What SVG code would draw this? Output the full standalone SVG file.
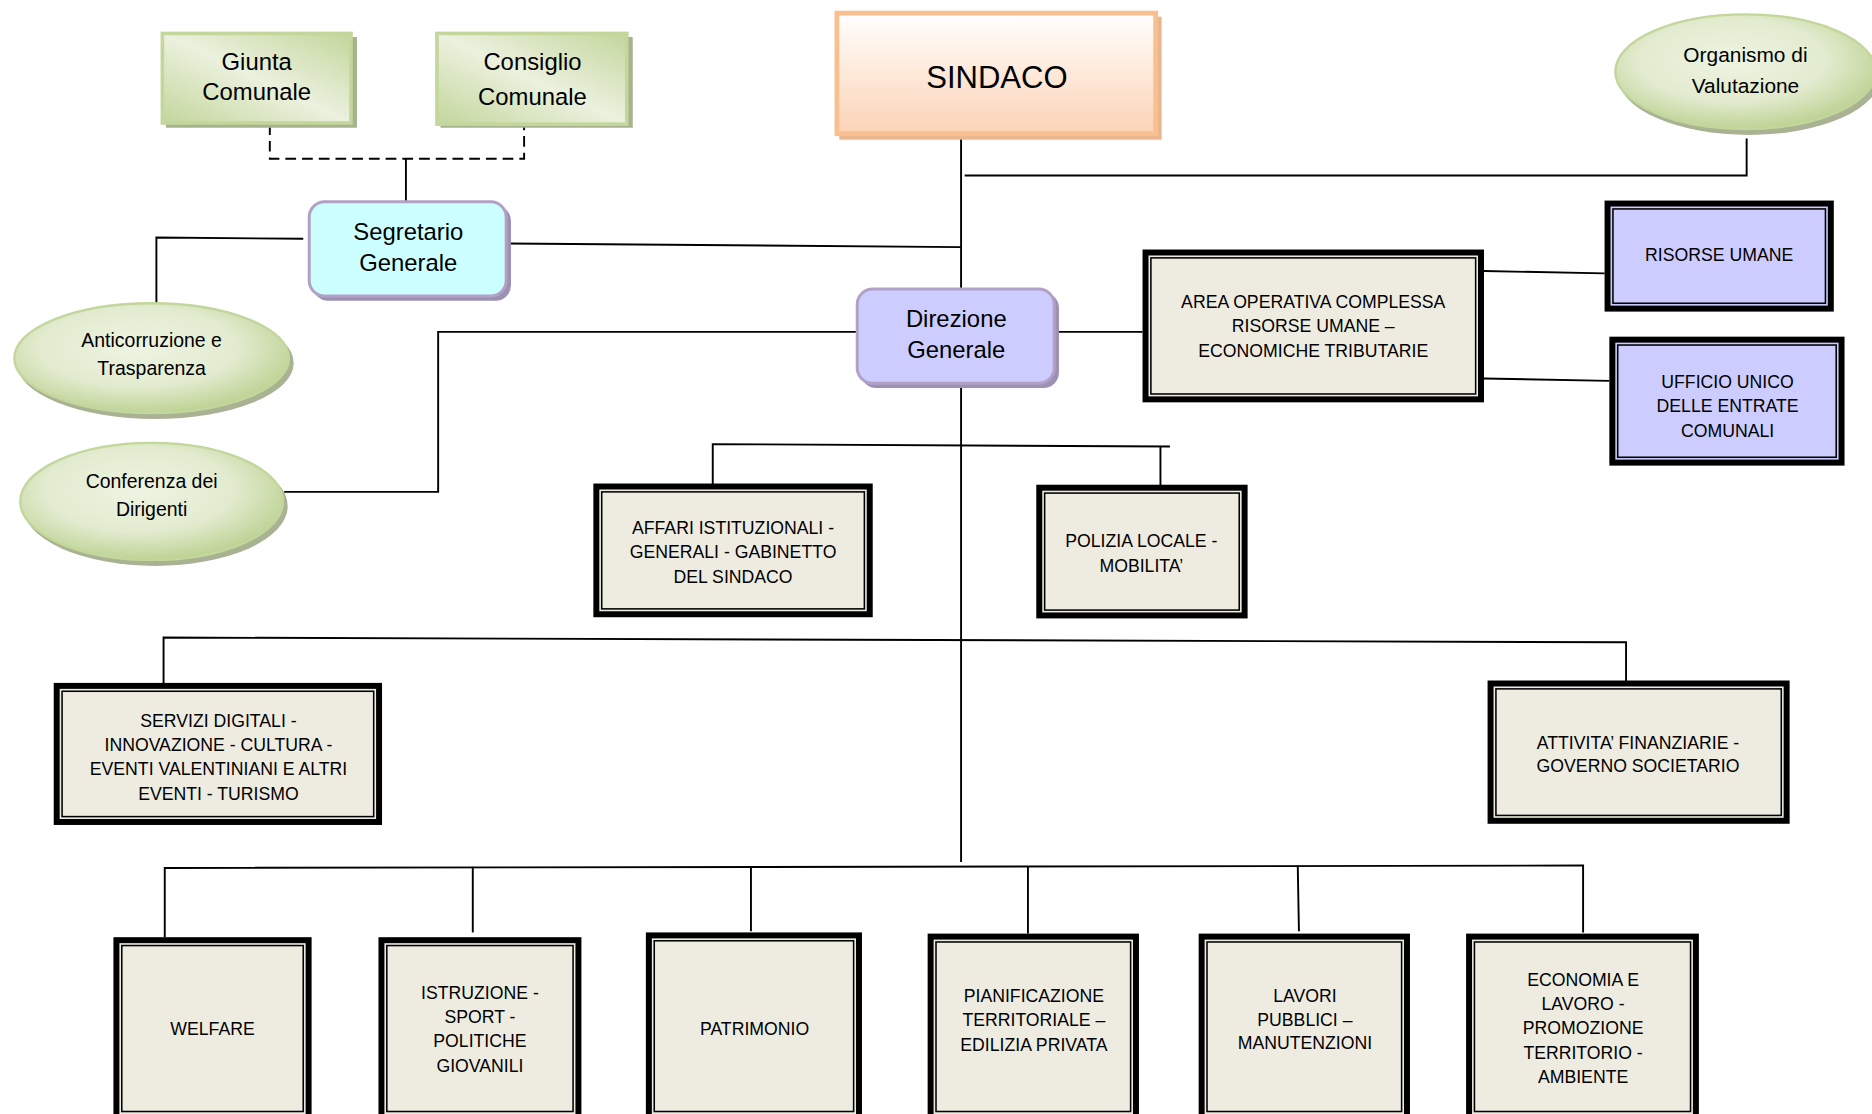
<svg xmlns="http://www.w3.org/2000/svg" width="1872" height="1114" viewBox="0 0 1872 1114">
<defs>
<linearGradient id="gGreen" x1="0" y1="1" x2="1" y2="0">
<stop offset="0" stop-color="#c3d69b"/><stop offset="0.5" stop-color="#ebf1de"/><stop offset="1" stop-color="#c3d69b"/>
</linearGradient>
<radialGradient id="gEll" cx="0.45" cy="0.4" r="0.6">
<stop offset="0" stop-color="#eef4e2"/><stop offset="0.6" stop-color="#e2ebcf"/><stop offset="1" stop-color="#bfd395"/>
</radialGradient>
<linearGradient id="gOrange" x1="0" y1="0" x2="0" y2="1">
<stop offset="0" stop-color="#ffffff"/><stop offset="1" stop-color="#fbd3b5"/>
</linearGradient>
<style>
.ln{stroke:#000;stroke-width:1.6;fill:none}
.dash{stroke-dasharray:9 5}
.o{fill:#eeece1;stroke:#000;stroke-width:5}
.op{fill:#ccccff;stroke:#000;stroke-width:5}
.i{fill:none;stroke:#000;stroke-width:1.3}
.t{font-family:"Liberation Sans",Arial,sans-serif;fill:#000;text-anchor:middle}
.s14{font-size:14.8px}
.s15{font-size:16.3px}
.s18{font-size:20px}
.grn{fill:url(#gGreen);stroke:#c3d69b;stroke-width:3}
.gsh{fill:#a7b28e}
.ell{fill:url(#gEll);stroke:#c3d69b;stroke-width:2}
.esh{fill:#a9b394}
.rnd{stroke:#b2a1c7;stroke-width:2.5}
.rsh{fill:#9c90b3}
</style>
</defs>
<g transform="scale(1.19388)">
<g id="connectors">
<path class="ln dash" d="M226,104 V133 H439 V106"/>
<path class="ln" d="M340,133 V169"/>
<path class="ln" d="M805,114 V722"/>
<path class="ln" d="M808,147 H1463 V116"/>
<path class="ln" d="M425,204 L805,207"/>
<path class="ln" d="M254,200 L131,199 V254"/>
<path class="ln" d="M718,278 H367 V412 H238"/>
<path class="ln" d="M884,278 H957"/>
<path class="ln" d="M1243,227 L1344,229"/>
<path class="ln" d="M1243,317 L1348,319"/>
<path class="ln" d="M597,406 V372 L980,374"/>
<path class="ln" d="M972,374 V407"/>
<path class="ln" d="M137,572 V534 L1362,538 V571"/>
<path class="ln" d="M138,785 V727 L1326,725 V781"/>
<path class="ln" d="M396,726 V781"/>
<path class="ln" d="M629,726 V780"/>
<path class="ln" d="M861,726 V782"/>
<path class="ln" d="M1087,725 L1088,780"/>
</g>
<g id="giunta">
<rect class="gsh" x="139" y="31" width="160" height="76"/>
<rect class="grn" x="136" y="28" width="158" height="75"/>
<text class="t s18"><tspan x="215" y="59">Giunta</tspan><tspan x="215" y="84">Comunale</tspan></text>
</g>
<g id="consiglio">
<rect class="gsh" x="369" y="31" width="161" height="76"/>
<rect class="grn" x="366" y="28" width="159" height="76"/>
<text class="t s18"><tspan x="446" y="59">Consiglio</tspan><tspan x="446" y="88">Comunale</tspan></text>
</g>
<g id="sindaco">
<rect x="703" y="14" width="270" height="103" fill="#e8b791"/>
<rect x="701" y="11" width="267" height="101" fill="url(#gOrange)" stroke="#f9bf8f" stroke-width="4"/>
<text class="t" font-size="26" x="835" y="74">SINDACO</text>
</g>
<g id="organismo">
<ellipse class="esh" cx="1465" cy="64" rx="110" ry="49"/>
<ellipse class="ell" cx="1462" cy="60" rx="109" ry="48"/>
<text class="t" font-size="17.5"><tspan x="1462" y="52">Organismo di</tspan><tspan x="1462" y="78">Valutazione</tspan></text>
</g>
<g id="segretario">
<rect class="rsh" x="262" y="172" width="166" height="80" rx="13"/>
<rect class="rnd" x="259" y="169" width="165" height="79" rx="13" fill="#ccffff"/>
<text class="t s18"><tspan x="342" y="201">Segretario</tspan><tspan x="342" y="227">Generale</tspan></text>
</g>
<g id="anticorruzione">
<ellipse class="esh" cx="130" cy="304" rx="116" ry="47"/>
<ellipse class="ell" cx="127" cy="300" rx="115" ry="46"/>
<text class="t s15"><tspan x="127" y="291">Anticorruzione e</tspan><tspan x="127" y="314">Trasparenza</tspan></text>
</g>
<g id="conferenza">
<ellipse class="esh" cx="130" cy="424" rx="111" ry="50"/>
<ellipse class="ell" cx="127" cy="420" rx="110" ry="49"/>
<text class="t s15"><tspan x="127" y="409">Conferenza dei</tspan><tspan x="127" y="432">Dirigenti</tspan></text>
</g>
<g id="direzione">
<rect class="rsh" x="721" y="245" width="166" height="80" rx="13"/>
<rect class="rnd" x="718" y="242" width="165" height="79" rx="13" fill="#ccccff"/>
<text class="t s18"><tspan x="801" y="274">Direzione</tspan><tspan x="801" y="300">Generale</tspan></text>
</g>
<g id="area">
<rect class="o" x="959.500" y="211.500" width="281" height="123"/>
<rect class="i" x="964" y="216" width="272" height="114"/>
<text class="t s14"><tspan x="1100" y="258">AREA OPERATIVA COMPLESSA</tspan><tspan x="1100" y="278">RISORSE UMANE –</tspan><tspan x="1100" y="299">ECONOMICHE TRIBUTARIE</tspan></text>
</g>
<g id="risorse">
<rect class="op" x="1346.500" y="170.500" width="187" height="88"/>
<rect class="i" x="1351" y="175" width="178" height="79"/>
<text class="t s14" x="1440" y="219">RISORSE UMANE</text>
</g>
<g id="ufficio">
<rect class="op" x="1350.500" y="284.500" width="192" height="103"/>
<rect class="i" x="1355" y="289" width="183" height="94"/>
<text class="t s14"><tspan x="1447" y="325">UFFICIO UNICO</tspan><tspan x="1447" y="345">DELLE ENTRATE</tspan><tspan x="1447" y="366">COMUNALI</tspan></text>
</g>
<g id="affari">
<rect class="o" x="499.500" y="407.500" width="229" height="107"/>
<rect class="i" x="504" y="412" width="220" height="98"/>
<text class="t s14"><tspan x="614" y="447">AFFARI ISTITUZIONALI -</tspan><tspan x="614" y="467">GENERALI - GABINETTO</tspan><tspan x="614" y="488">DEL SINDACO</tspan></text>
</g>
<g id="polizia">
<rect class="o" x="870.500" y="408.500" width="172" height="107"/>
<rect class="i" x="875" y="413" width="163" height="98"/>
<text class="t s14"><tspan x="956" y="458">POLIZIA LOCALE -</tspan><tspan x="956" y="479">MOBILITA’</tspan></text>
</g>
<g id="servizi">
<rect class="o" x="47.500" y="574.500" width="270" height="114"/>
<rect class="i" x="52" y="579" width="261" height="105"/>
<text class="t s14"><tspan x="183" y="609">SERVIZI DIGITALI -</tspan><tspan x="183" y="629">INNOVAZIONE - CULTURA -</tspan><tspan x="183" y="649">EVENTI VALENTINIANI E ALTRI</tspan><tspan x="183" y="670">EVENTI - TURISMO</tspan></text>
</g>
<g id="attivita">
<rect class="o" x="1248.500" y="572.500" width="248" height="115"/>
<rect class="i" x="1253" y="577" width="239" height="106"/>
<text class="t s14"><tspan x="1372" y="627">ATTIVITA’ FINANZIARIE -</tspan><tspan x="1372" y="647">GOVERNO SOCIETARIO</tspan></text>
</g>
<g id="welfare">
<rect class="o" x="97.500" y="787.500" width="161" height="150"/>
<rect class="i" x="102" y="792" width="152" height="139"/>
<text class="t s14" x="178" y="867">WELFARE</text>
</g>
<g id="istruzione">
<rect class="o" x="319.500" y="787.500" width="165" height="150"/>
<rect class="i" x="324" y="792" width="156" height="139"/>
<text class="t s14"><tspan x="402" y="837">ISTRUZIONE -</tspan><tspan x="402" y="857">SPORT -</tspan><tspan x="402" y="877">POLITICHE</tspan><tspan x="402" y="898">GIOVANILI</tspan></text>
</g>
<g id="patrimonio">
<rect class="o" x="543.500" y="783.500" width="176" height="154"/>
<rect class="i" x="548" y="788" width="167" height="143"/>
<text class="t s14" x="632" y="867">PATRIMONIO</text>
</g>
<g id="pianificazione">
<rect class="o" x="779.500" y="784.500" width="172" height="153"/>
<rect class="i" x="784" y="789" width="163" height="142"/>
<text class="t s14"><tspan x="866" y="839">PIANIFICAZIONE</tspan><tspan x="866" y="859">TERRITORIALE –</tspan><tspan x="866" y="880">EDILIZIA PRIVATA</tspan></text>
</g>
<g id="lavori">
<rect class="o" x="1006.500" y="784.500" width="172" height="153"/>
<rect class="i" x="1011" y="789" width="163" height="142"/>
<text class="t s14"><tspan x="1093" y="839">LAVORI</tspan><tspan x="1093" y="859">PUBBLICI –</tspan><tspan x="1093" y="879">MANUTENZIONI</tspan></text>
</g>
<g id="economia">
<rect class="o" x="1230.500" y="784.500" width="190" height="153"/>
<rect class="i" x="1235" y="789" width="181" height="142"/>
<text class="t s14"><tspan x="1326" y="826">ECONOMIA E</tspan><tspan x="1326" y="846">LAVORO -</tspan><tspan x="1326" y="866">PROMOZIONE</tspan><tspan x="1326" y="887">TERRITORIO -</tspan><tspan x="1326" y="907">AMBIENTE</tspan></text>
</g>
</g>
</svg>
